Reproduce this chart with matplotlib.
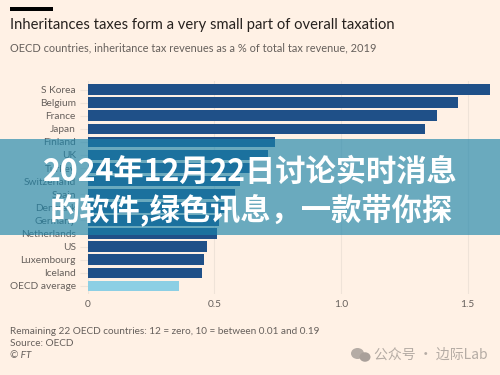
import matplotlib
matplotlib.use('Agg')
import matplotlib.pyplot as plt
from matplotlib.patches import Rectangle, Ellipse

plt.rcParams['font.family'] = ['Lato', 'DejaVu Sans']
cjk = ['Noto Sans CJK SC', 'DejaVu Sans']

# Data
countries = ['S Korea', 'Belgium', 'France', 'Japan', 'Finland', 'UK', 'Turkey',
             'Switzerland', 'Spain', 'Denmark', 'Germany', 'Netherlands', 'US',
             'Luxembourg', 'Iceland', 'OECD average']
values = [1.59, 1.46, 1.38, 1.33, 0.74, 0.71, 0.65, 0.60, 0.58, 0.55, 0.52, 0.51,
          0.47, 0.46, 0.45, 0.36]
xticks = [0, 0.5, 1.0, 1.5]
xticklabels = ['0', '0.5', '1.0', '1.5']

bg = '#fff1e5'
dark = '#1f5088'
light = '#8ccfe4'
grey = '#66605c'

W, H = 500, 375
fig = plt.figure(figsize=(5, 3.75), dpi=100, facecolor=bg)
# axes placed in pixel terms: x=0 at 87.7, 1.5 at 467.7
ax = fig.add_axes([87.7/W, 1-294/H, (497-87.7)/W, (294-81)/H], facecolor=bg)
ax.set_xlim(0, (497-87.7)/253.3)
ax.set_ylim(15.62, -0.65)

colors = [dark]*15 + [light]
ax.barh(range(len(values)), values, height=0.8, color=colors, zorder=3)

ax.set_yticks(range(len(countries)))
ax.set_yticklabels(countries, fontsize=7.3, color=grey)
ax.set_xticks(xticks)
ax.set_xticklabels(xticklabels, fontsize=7.3, color=grey)
ax.tick_params(axis='y', length=6, color='#efe3d8', pad=2.5, width=0.8)
ax.tick_params(axis='x', length=0, pad=4)
ax.grid(axis='x', color='#efe3d8', lw=0.8, zorder=0)
for s in ax.spines.values():
    s.set_visible(False)
ax.axvline(0, color='#efe3d8', lw=0.8, zorder=1)

# Header
fig.add_artist(Rectangle((10/W, 1-10.5/H), 42.5/W, 3/H, facecolor='#000000', linewidth=0,
                         transform=fig.transFigure))
fig.text(10/W, 1-25/H, 'Inheritances taxes form a very small part of overall taxation',
         fontsize=10.6, color='#26211e', va='center')
fig.text(10/W, 1-48/H, 'OECD countries, inheritance tax revenues as a % of total tax revenue, 2019',
         fontsize=7.9, color=grey, va='center')

# Footer
fig.text(10/W, 1-331/H, 'Remaining 22 OECD countries: 12 = zero, 10 = between 0.01 and 0.19',
         fontsize=7.2, color=grey, va='center')
fig.text(10/W, 1-343.5/H, 'Source: OECD', fontsize=7.2, color=grey, va='center')
fig.text(10/W, 1-356/H, '© FT', fontsize=7.2, color=grey, va='center', style='italic')

# Watermark
fig.add_artist(Ellipse((357.5/W, 1-353.5/H), 13/W, 11/H, facecolor='#b5aca5', linewidth=0,
                       transform=fig.transFigure))
fig.add_artist(Ellipse((365/W, 1-357/H), 11/W, 9.5/H, facecolor='#a9a09a', linewidth=0,
                       transform=fig.transFigure))
fig.text(374/W, 1-355/H, '公众号 · 边际Lab', fontsize=10, color='#b5aca5',
         va='center', family=cjk)

# Banner, see-through so the bars and labels show under it
fig.add_artist(Rectangle((0, 1-234.7/H), 1, 95.7/H, facecolor='#1a84aa', alpha=0.65, linewidth=0,
                         transform=fig.transFigure, zorder=5))
fig.text(250/W, 1-172/H, '2024年12月22日讨论实时消息', fontsize=21.8, fontweight='bold',
         color='white', ha='center', va='center', family=cjk, zorder=6)
fig.text(251/W, 1-210/H, '的软件,绿色讯息，一款带你探', fontsize=21.8, fontweight='bold',
         color='white', ha='center', va='center', family=cjk, zorder=6)

fig.savefig('out.png', dpi=100, facecolor=bg)
